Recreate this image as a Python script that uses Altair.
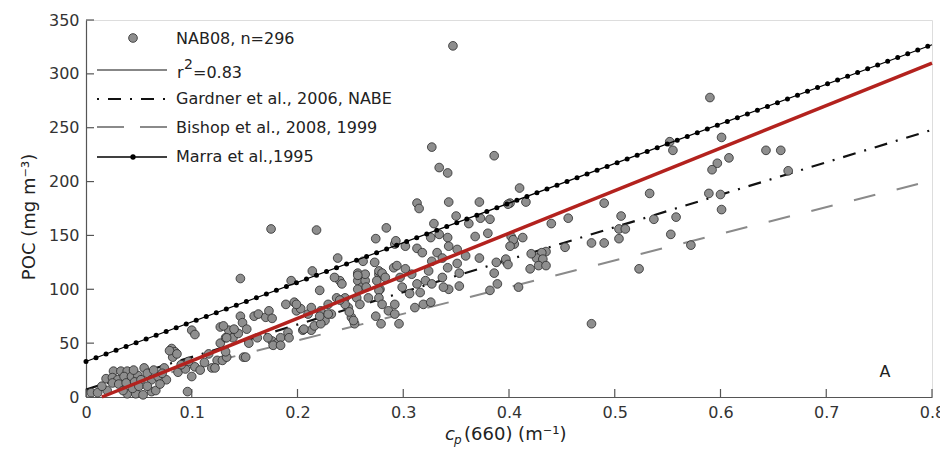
import altair as alt
import pandas as pd

# ---- scatter data (NAB08) ----
cp = [
    0.005, 0.011, 0.020, 0.026, 0.033, 0.039, 0.019, 0.025, 0.030, 0.036, 0.043, 0.049, 0.055, 0.058,
    0.025, 0.031, 0.038, 0.046, 0.052, 0.062, 0.068, 0.039, 0.047, 0.054, 0.062, 0.066, 0.074, 0.076,
    0.081, 0.084, 0.082, 0.087, 0.094, 0.100, 0.103, 0.108, 0.096, 0.119, 0.124, 0.129, 0.133, 0.127,
    0.132, 0.135, 0.139, 0.144, 0.146, 0.148, 0.100, 0.103, 0.127, 0.146,
    0.015, 0.044, 0.050, 0.035, 0.058, 0.070, 0.072, 0.064, 0.045, 0.090, 0.097, 0.112, 0.116, 0.079,
    0.086, 0.122, 0.130, 0.140, 0.133, 0.152, 0.149, 0.132, 0.151, 0.154,
    0.159, 0.163, 0.170, 0.173, 0.176, 0.175, 0.176, 0.181, 0.184, 0.189, 0.191, 0.194, 0.197, 0.199,
    0.203, 0.205, 0.210, 0.213, 0.214, 0.218, 0.221, 0.222, 0.226, 0.229, 0.232, 0.238, 0.240, 0.242,
    0.245, 0.248, 0.251, 0.254, 0.257, 0.261, 0.264, 0.267, 0.274, 0.277, 0.278, 0.262,
    0.177, 0.184, 0.192, 0.199, 0.213, 0.206, 0.216, 0.222, 0.221, 0.229, 0.235, 0.237, 0.245, 0.249,
    0.253, 0.257, 0.257, 0.256, 0.259, 0.273, 0.275, 0.277, 0.277, 0.162, 0.172,
    0.327, 0.386, 0.334, 0.342, 0.313, 0.315, 0.343, 0.372, 0.410, 0.401, 0.350, 0.362, 0.373, 0.382,
    0.284, 0.329, 0.334, 0.326, 0.342, 0.343, 0.351, 0.292, 0.302, 0.313, 0.318, 0.332, 0.337, 0.327,
    0.368, 0.380, 0.372, 0.359, 0.402, 0.405, 0.388, 0.397, 0.386, 0.389, 0.382, 0.409, 0.280, 0.283,
    0.291, 0.294, 0.302, 0.297, 0.308, 0.313, 0.321, 0.327, 0.324, 0.337, 0.316, 0.306, 0.299, 0.277,
    0.280, 0.292, 0.286, 0.292, 0.311, 0.319, 0.326, 0.296, 0.264, 0.265, 0.353, 0.342, 0.343, 0.353,
    0.347, 0.293, 0.351, 0.338, 0.274, 0.279, 0.240, 0.257,
    0.399, 0.416, 0.533, 0.490, 0.456, 0.440, 0.506, 0.537, 0.504, 0.510, 0.504, 0.490, 0.478, 0.453,
    0.435, 0.431, 0.426, 0.421, 0.432, 0.428, 0.435, 0.420, 0.404, 0.401, 0.413, 0.397, 0.399, 0.523,
    0.478,
    0.590, 0.552, 0.555, 0.601, 0.643, 0.657, 0.608, 0.597, 0.592, 0.664, 0.589, 0.600, 0.601, 0.558,
    0.553, 0.572,
]
poc = [
    4, 4, 6, 24, 24, 24, 17, 18, 16, 19, 19, 20, 27, 22,
    13, 12, 13, 14, 16, 16, 19, 3, 3, 2, 5, 6, 27, 16,
    45, 42, 37, 23, 26, 19, 28, 25, 5, 27, 34, 34, 37, 50,
    55, 62, 55, 59, 75, 69, 62, 58, 65, 110,
    10, 8, 10, 6, 10, 12, 22, 25, 25, 30, 33, 32, 40, 43,
    40, 27, 66, 63, 55, 63, 37, 42, 37, 50,
    75, 77, 74, 80, 73, 156, 52, 50, 55, 86, 60, 108, 88, 80,
    82, 62, 77, 83, 117, 155, 99, 80, 71, 86, 77, 129, 108, 105,
    92, 83, 74, 68, 108, 102, 108, 92, 147, 114, 100, 126,
    48, 48, 55, 86, 62, 63, 66, 68, 75, 77, 111, 92, 86, 79,
    71, 115, 100, 92, 86, 125, 108, 99, 117, 55, 55,
    232, 224, 213, 208, 180, 175, 181, 181, 194, 180, 168, 161, 166, 165,
    157, 161, 151, 148, 148, 140, 137, 142, 140, 138, 134, 134, 129, 126,
    149, 152, 129, 131, 149, 142, 125, 126, 115, 105, 99, 102, 115, 111,
    120, 122, 119, 111, 114, 105, 108, 105, 117, 111, 97, 96, 102, 92,
    86, 86, 80, 77, 83, 86, 88, 68, 114, 102, 115, 120, 100, 103,
    326, 145, 124, 102, 75, 68, 90, 113,
    179, 181, 189, 180, 166, 161, 168, 165, 156, 156, 147, 143, 143, 139,
    135, 134, 129, 133, 128, 122, 122, 119, 146, 140, 148, 128, 123, 119,
    68,
    278, 237, 229, 241, 229, 229, 222, 217, 211, 210, 189, 188, 174, 167,
    151, 141,
]

# ---- reference / fitted lines (end points) ----
line_names = ["r2", "r2", "Gardner", "Gardner", "Bishop", "Bishop", "Marra", "Marra"]
line_cp = [0.015, 0.8, 0.0, 0.8, 0.0, 0.8, 0.0, 0.8]
line_poc = [0, 310, 7, 248, 3, 201, 33, 327]

x_ticks = [0, 0.1, 0.2, 0.3, 0.4, 0.5, 0.6, 0.7, 0.8]
y_ticks = [0, 50, 100, 150, 200, 250, 300, 350]

legend_labels = ["NAB08, n=296", "Gardner et al., 2006, NABE", "Bishop et al., 2008, 1999", "Marra et al.,1995"]

W, H = 846, 377
FONT = "DejaVu Sans"

pts_df = pd.DataFrame({"cp": cp, "poc": poc})
lines_df = pd.DataFrame({"name": line_names, "cp": line_cp, "poc": line_poc})
xt_df = pd.DataFrame({"cp": x_ticks})
yt_df = pd.DataFrame({"poc": y_ticks})

xs = alt.Scale(domain=[0, 0.8], nice=False, zero=False)
ys = alt.Scale(domain=[0, 350], nice=False)

xax = alt.Axis(values=x_ticks, format="~g", title=None, grid=False, ticks=False, tickSize=0,
               domainColor="#555555", domainWidth=1.2, labelFont=FONT, labelFontSize=16,
               labelColor="#333333", labelPadding=7, labelFlush=False)
yax = alt.Axis(values=y_ticks, title=None, grid=False, ticks=False, tickSize=0,
               domainColor="#555555", domainWidth=1.2, labelFont=FONT, labelFontSize=16,
               labelColor="#333333", labelPadding=7)

X = alt.X("cp:Q", scale=xs, axis=xax)
Y = alt.Y("poc:Q", scale=ys, axis=yax)


def seg(name):
    return alt.Chart(lines_df).transform_filter(alt.datum.name == name)


bishop = seg("Bishop").mark_line(color="#8a8a8a", strokeWidth=2, strokeDash=[22, 22]).encode(x=X, y=Y)
gardner = seg("Gardner").mark_line(color="#111111", strokeWidth=2.2, strokeDash=[13, 9, 2, 9]).encode(x=X, y=Y)
points = alt.Chart(pts_df).mark_circle(size=76, color="#8e8e8e", opacity=1, stroke="#2a2a2a",
                                       strokeWidth=0.8).encode(x=X, y=Y)
red = seg("r2").mark_line(color="#b3221e", strokeWidth=3.5).encode(x=X, y=Y)
marra = seg("Marra").mark_line(color="#000000", strokeWidth=1.2).encode(x=X, y=Y)
marra_dots = seg("Marra").mark_line(color="#000000", strokeWidth=5, strokeDash=[0, 10.7],
                                    strokeCap="round").encode(x=X, y=Y)

xticks = alt.Chart(xt_df).mark_rule(color="#555555", strokeWidth=1.2).encode(
    x=X, y=alt.value(H), y2=alt.value(H - 8))
yticks = alt.Chart(yt_df).mark_rule(color="#555555", strokeWidth=1.2).encode(
    y=Y, x=alt.value(0), x2=alt.value(8))

one = alt.Data(values=[{}])


def txt(s, x, y, size=16, **kw):
    return alt.Chart(one).mark_text(text=s, font=FONT, fontSize=size, color="#222222",
                                    baseline="middle", **kw).encode(x=alt.value(x), y=alt.value(y))


def rule(x1, x2, y, **kw):
    return alt.Chart(one).mark_rule(**kw).encode(x=alt.value(x1), x2=alt.value(x2), y=alt.value(y))


leg = [
    alt.Chart(one).mark_circle(size=76, color="#8e8e8e", opacity=1, stroke="#2a2a2a",
                               strokeWidth=0.8).encode(x=alt.value(47), y=alt.value(18)),
    txt(legend_labels[0], 90, 19, align="left"),
    rule(11, 81, 50, color="#111111", strokeWidth=1.2),
    txt("r", 91, 53, align="left"),
    txt("2", 98, 45, size=14, align="left"),
    txt("=0.83", 107, 53, align="left"),
    rule(11, 81, 79, color="#111111", strokeWidth=2.2, strokeDash=[2, 9, 13, 9]),
    txt(legend_labels[1], 90, 79, align="left"),
    rule(11, 81, 107, color="#8a8a8a", strokeWidth=2, strokeDash=[27, 16]),
    txt(legend_labels[2], 90, 108, align="left"),
    rule(11, 81, 137, color="#000000", strokeWidth=1.5),
    alt.Chart(one).mark_circle(size=28, color="#000000", opacity=1).encode(x=alt.value(47), y=alt.value(137)),
    txt(legend_labels[3], 90, 137, align="left"),
]

titles = [
    txt("A", 799, 352, size=16, align="center"),
    txt("c", 359, 415, size=18, align="left", fontStyle="italic"),
    txt("p", 368, 420, size=12, align="left", fontStyle="italic"),
    txt("(660) (m\u207b\u00b9)", 378, 415, size=18, align="left"),
    txt("POC (mg m\u207b\u00b3)", -56, 197, size=18, align="center", angle=270),
]

chart = alt.layer(
    bishop, gardner, points, red, marra, marra_dots, xticks, yticks, *leg, *titles
).properties(
    width=W, height=H,
    autosize=alt.AutoSizeParams(type="none"),
    padding={"left": 78, "top": 12, "right": 8, "bottom": 52},
).configure_view(stroke=None).configure(background="white")

chart.save("out.html", embed_options={"renderer": "svg", "actions": False})
